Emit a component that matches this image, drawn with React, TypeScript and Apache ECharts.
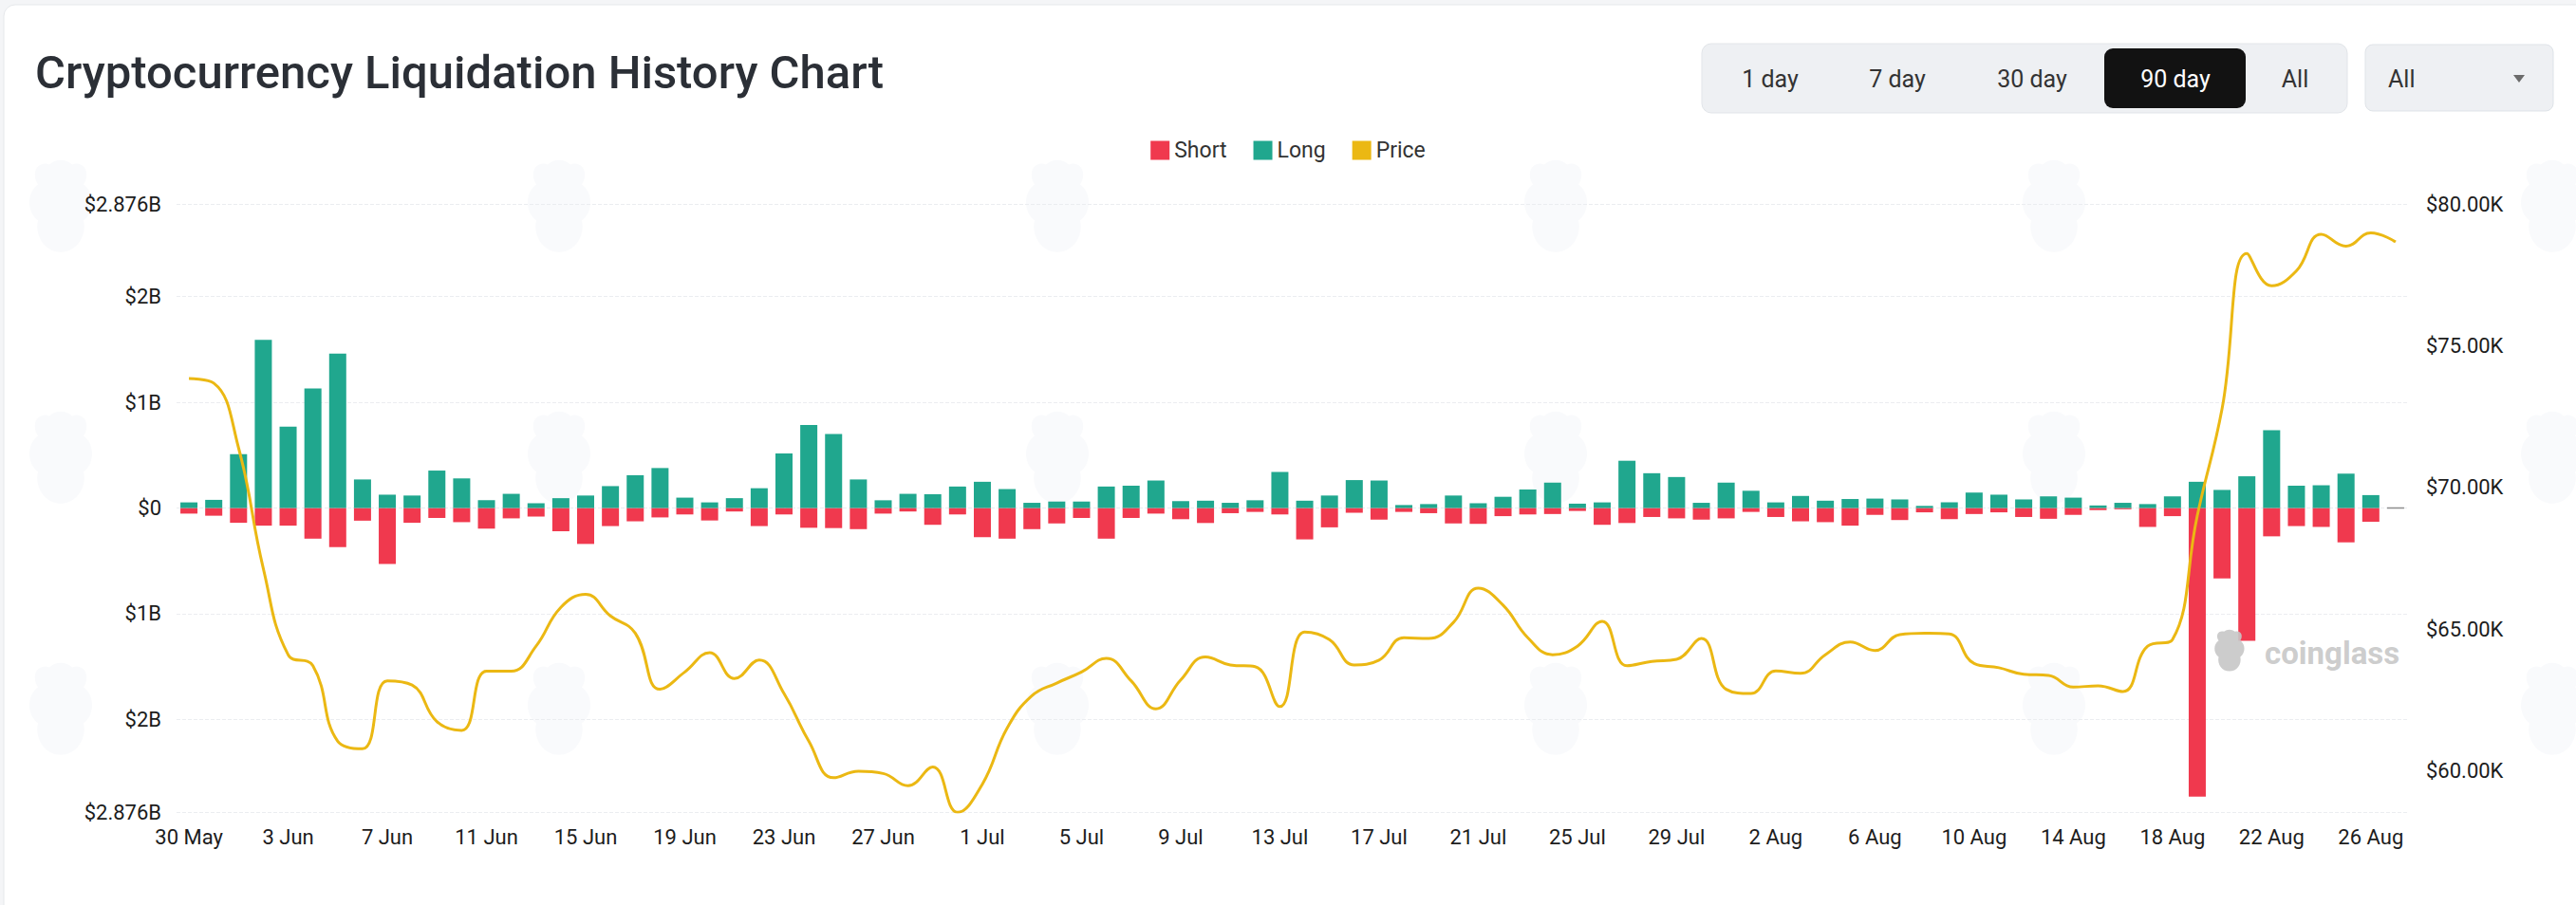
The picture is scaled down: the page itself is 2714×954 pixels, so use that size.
import React, { useEffect, useRef } from "react";
import * as echarts from "echarts";

const dates = [
  "30 May", "31 May", "1 Jun", "2 Jun", "3 Jun", "4 Jun", "5 Jun", "6 Jun", "7 Jun", "8 Jun",
  "9 Jun", "10 Jun", "11 Jun", "12 Jun", "13 Jun", "14 Jun", "15 Jun", "16 Jun", "17 Jun", "18 Jun",
  "19 Jun", "20 Jun", "21 Jun", "22 Jun", "23 Jun", "24 Jun", "25 Jun", "26 Jun", "27 Jun", "28 Jun",
  "29 Jun", "30 Jun", "1 Jul", "2 Jul", "3 Jul", "4 Jul", "5 Jul", "6 Jul", "7 Jul", "8 Jul",
  "9 Jul", "10 Jul", "11 Jul", "12 Jul", "13 Jul", "14 Jul", "15 Jul", "16 Jul", "17 Jul", "18 Jul",
  "19 Jul", "20 Jul", "21 Jul", "22 Jul", "23 Jul", "24 Jul", "25 Jul", "26 Jul", "27 Jul", "28 Jul",
  "29 Jul", "30 Jul", "31 Jul", "1 Aug", "2 Aug", "3 Aug", "4 Aug", "5 Aug", "6 Aug", "7 Aug",
  "8 Aug", "9 Aug", "10 Aug", "11 Aug", "12 Aug", "13 Aug", "14 Aug", "15 Aug", "16 Aug", "17 Aug",
  "18 Aug", "19 Aug", "20 Aug", "21 Aug", "22 Aug", "23 Aug", "24 Aug", "25 Aug", "26 Aug", "27 Aug",
];

// Long liquidations, billions USD
const longB = [
  0.053, 0.077, 0.51, 1.59, 0.77, 1.13, 1.46, 0.27, 0.126, 0.118,
  0.354, 0.28, 0.073, 0.134, 0.045, 0.093, 0.118, 0.207, 0.31, 0.378,
  0.098, 0.053, 0.093, 0.187, 0.516, 0.785, 0.7, 0.27, 0.073, 0.134,
  0.13, 0.203, 0.248, 0.179, 0.049, 0.061, 0.061, 0.203, 0.211, 0.26,
  0.065, 0.069, 0.049, 0.073, 0.341, 0.069, 0.118, 0.264, 0.26, 0.028,
  0.037, 0.118, 0.045, 0.106, 0.175, 0.24, 0.041, 0.053, 0.447, 0.329,
  0.293, 0.049, 0.24, 0.163, 0.053, 0.114, 0.069, 0.085, 0.089, 0.081,
  0.02, 0.053, 0.146, 0.126, 0.081, 0.11, 0.098, 0.024, 0.049, 0.037,
  0.11, 0.248, 0.171, 0.3, 0.736, 0.211, 0.215, 0.325, 0.122, 0,
];

// Short liquidations, billions USD (drawn below zero)
const shortB = [
  0.053, 0.073, 0.14, 0.167, 0.167, 0.29, 0.37, 0.12, 0.53, 0.14,
  0.094, 0.134, 0.195, 0.098, 0.081, 0.22, 0.34, 0.171, 0.126, 0.089,
  0.061, 0.118, 0.033, 0.171, 0.061, 0.187, 0.19, 0.2, 0.053, 0.033,
  0.159, 0.061, 0.276, 0.29, 0.2, 0.146, 0.094, 0.29, 0.094, 0.053,
  0.106, 0.142, 0.049, 0.037, 0.061, 0.297, 0.183, 0.045, 0.11, 0.037,
  0.049, 0.146, 0.15, 0.077, 0.061, 0.057, 0.028, 0.159, 0.142, 0.085,
  0.098, 0.11, 0.098, 0.037, 0.085, 0.126, 0.134, 0.167, 0.065, 0.114,
  0.041, 0.106, 0.057, 0.041, 0.085, 0.102, 0.065, 0.02, 0.012, 0.179,
  0.077, 2.73, 0.667, 1.256, 0.268, 0.171, 0.179, 0.325, 0.13, 0,
];

// BTC price, thousands USD
const priceK = [
  73.84, 73.68, 71.4, 67.14, 64.1, 63.71, 61.05, 60.78, 63.18, 63.03,
  61.74, 61.43, 63.52, 63.52, 64.4, 65.77, 66.23, 65.47, 64.86, 62.88,
  63.49, 64.17, 63.26, 63.91, 62.73, 61.05, 59.76, 59.99, 59.91, 59.48,
  60.14, 58.54, 59.53, 61.51, 62.65, 63.1, 63.49, 63.97, 63.18, 62.19,
  63.21, 64.02, 63.74, 63.68, 62.27, 64.9, 64.63, 63.74, 63.91, 64.7,
  64.67, 65.24, 66.45, 65.85, 64.7, 64.1, 64.4, 65.28, 63.71, 63.86,
  63.94, 64.67, 62.88, 62.73, 63.53, 63.44, 64.1, 64.55, 64.25, 64.81,
  64.86, 64.83, 63.79, 63.64, 63.41, 63.37, 62.96, 63.0, 62.8, 64.4,
  64.63, 69.0, 72.77, 78.25, 77.11, 77.64, 78.93, 78.51, 78.98, 78.66,
];

const leftAxisRange = [-2.876, 2.876];
const rightAxisRange = [58.55, 80];
const rangeButtons = ["1 day", "7 day", "30 day", "90 day", "All"];
const activeRange = "90 day";
const coinFilter = "All";
const titleText = "Cryptocurrency Liquidation History Chart";
const watermark = "coinglass";

const RED = "#F0394E";
const TEAL = "#20A78E";
const YELLOW = "#EBB813";
const FONT = "Roboto, 'Noto Sans', sans-serif";

const logoPath =
  "M10 14 C6 8 10 2 16 4 C19 1 25 1 28 4 C34 2 38 8 34 14 C40 18 40 28 34 32 C36 40 30 48 22 48 C14 48 8 40 10 32 C4 28 4 18 10 14 Z";
echarts.graphic.registerShape("cgLogo", echarts.graphic.extendPath(logoPath, {}) as any);

function buildOption() {
  const btnX = [1865, 1999, 2141, 2292, 2418];
  const graphics: any[] = [
    {
      type: "rect",
      z: -10,
      silent: true,
      shape: { x: 4, y: 5, width: 2740, height: 980, r: 12 },
      style: { fill: "#ffffff", stroke: "#e6e8eb", lineWidth: 1 },
    },
  ];
  // very faint background ghost logos
  for (let gx = 20; gx < 2714; gx += 525) {
    for (let gy = 165; gy < 900; gy += 265) {
      graphics.push({
        type: "cgLogo",
        x: gx,
        y: gy,
        scaleX: 2,
        scaleY: 2.1,
        z: -9,
        silent: true,
        style: { fill: "#f9fafc" },
      });
    }
  }
  graphics.push(
    {
      type: "rect",
      shape: { x: 1793, y: 46, width: 680, height: 73, r: 10 },
      style: { fill: "#eef0f3", stroke: "#e2e5e9", lineWidth: 1 },
    },
    {
      type: "rect",
      shape: { x: 2217, y: 51, width: 149, height: 63, r: 9 },
      style: { fill: "#121212" },
    },
    {
      type: "rect",
      shape: { x: 2492, y: 47, width: 198, height: 70, r: 8 },
      style: { fill: "#eef0f3", stroke: "#dfe3e8", lineWidth: 1 },
    },
    {
      type: "text",
      x: 2516,
      y: 83,
      style: {
        text: coinFilter,
        font: `400 25px ${FONT}`,
        fill: "#333333",
        textAlign: "left",
        textVerticalAlign: "middle",
        align: "left",
        verticalAlign: "middle",
      },
    },
    {
      type: "polygon",
      shape: { points: [[2648, 79], [2660, 79], [2654, 87]] },
      style: { fill: "#6b6b6b" },
    },
    {
      type: "cgLogo",
      x: 2328,
      y: 662,
      scaleX: 0.95,
      scaleY: 0.95,
      z: 100,
      style: { fill: "#c6c6c6", opacity: 0.9 },
    },
    {
      type: "text",
      x: 2386,
      y: 688,
      z: 100,
      style: {
        text: watermark,
        font: `700 33px ${FONT}`,
        fill: "#c6c6c6",
        opacity: 0.9,
        textAlign: "left",
        textVerticalAlign: "middle",
        align: "left",
        verticalAlign: "middle",
      },
    }
  );
  rangeButtons.forEach((b, i) => {
    graphics.push({
      type: "text",
      x: btnX[i],
      y: 83,
      style: {
        text: b,
        font: `400 25px ${FONT}`,
        fill: b === activeRange ? "#ffffff" : "#333333",
        textAlign: "center",
        textVerticalAlign: "middle",
        align: "center",
        verticalAlign: "middle",
      },
    });
  });

  const fmtB = (v: number) => (Math.abs(v) < 1e-9 ? "$0" : "$" + +Math.abs(v).toFixed(3) + "B");

  return {
    animation: false,
    backgroundColor: "#f4f5f7",
    textStyle: { fontFamily: FONT },
    title: {
      text: titleText,
      left: 37,
      top: 52,
      padding: 0,
      textStyle: { fontSize: 49, fontWeight: 500, color: "#2b2f36", fontFamily: FONT },
    },
    legend: {
      data: ["Short", "Long", "Price"],
      left: "center",
      top: 142,
      itemWidth: 20,
      itemHeight: 20,
      itemGap: 28,
      icon: "rect",
      textStyle: { fontSize: 23, color: "#333333", fontFamily: FONT },
    },
    grid: { left: 186, right: 177, top: 215, bottom: 98, containLabel: false },
    xAxis: {
      type: "category",
      data: dates,
      boundaryGap: true,
      axisLine: { show: false },
      axisTick: { show: false },
      axisLabel: { interval: 3, fontSize: 22, color: "#1c1c1c", margin: 15, fontFamily: FONT },
      splitLine: { show: false },
    },
    yAxis: [
      {
        type: "value",
        min: leftAxisRange[0],
        max: leftAxisRange[1],
        splitNumber: 5,
        axisLine: { show: false },
        axisTick: { show: false },
        axisLabel: { fontSize: 22, color: "#1c1c1c", margin: 16, formatter: fmtB, fontFamily: FONT },
        splitLine: { show: true, lineStyle: { color: "#ebedf0", type: "dashed", width: 1 } },
      },
      {
        type: "value",
        min: rightAxisRange[0],
        max: rightAxisRange[1],
        splitNumber: 5,
        position: "right",
        axisLine: { show: false },
        axisTick: { show: false },
        axisLabel: {
          fontSize: 22,
          color: "#1c1c1c",
          margin: 19,
          showMinLabel: false,
          fontFamily: FONT,
          formatter: (v: number) => "$" + v.toFixed(2) + "K",
        },
        splitLine: { show: false },
      },
    ],
    series: [
      {
        name: "Short",
        type: "bar",
        stack: "liq",
        yAxisIndex: 0,
        barWidth: 18,
        itemStyle: { color: RED },
        data: shortB.map((v) => -v),
      },
      {
        name: "Long",
        type: "bar",
        stack: "liq",
        yAxisIndex: 0,
        barWidth: 18,
        itemStyle: { color: TEAL },
        data: longB.map((v, i) =>
          i === longB.length - 1
            ? { value: v, itemStyle: { color: "#8c8c8c", borderColor: "#8c8c8c", borderWidth: 1.5 } }
            : v
        ),
      },
      {
        name: "Price",
        type: "line",
        yAxisIndex: 1,
        smooth: 0.45,
        showSymbol: false,
        symbol: "none",
        lineStyle: { color: YELLOW, width: 3 },
        itemStyle: { color: YELLOW },
        data: priceK,
        z: 5,
      },
    ],
    graphic: graphics,
  };
}

export default function App() {
  const ref = useRef<HTMLDivElement>(null);
  useEffect(() => {
    if (!ref.current) return;
    const chart = echarts.init(ref.current, undefined, { renderer: "svg" });
    chart.setOption(buildOption() as any);
    return () => chart.dispose();
  }, []);
  return (
    <div
      ref={ref}
      style={{ position: "fixed", left: 0, top: 0, width: 2714, height: 954 }}
    />
  );
}
